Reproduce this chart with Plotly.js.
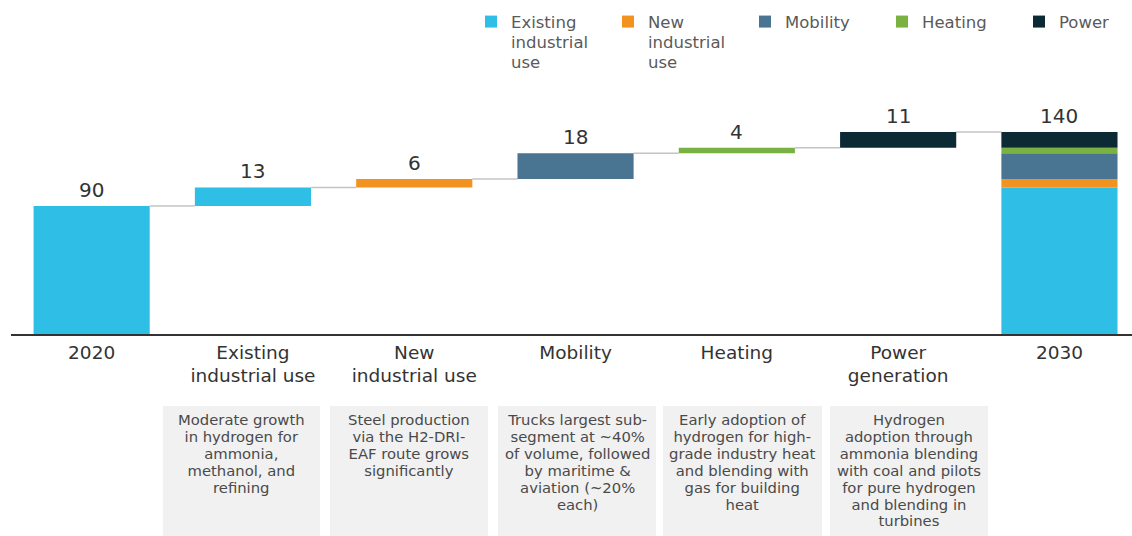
<!DOCTYPE html>
<html>
<head>
<meta charset="utf-8">
<script src="https://cdn.plot.ly/plotly-3.0.1.min.js"></script>
<style>html,body{margin:0;padding:0;background:#fff;}#chart{width:1132px;height:536px;}</style>
</head>
<body>
<div id="chart"></div>
<script>
// ---- data ----
const categories = ['2020', 'Existing<br>industrial use', 'New<br>industrial use', 'Mobility', 'Heating', 'Power<br>generation', '2030'];
const startValue = 90;                 // 2020
const seriesNames = ['Existing<br>industrial<br>use', 'New<br>industrial<br>use', 'Mobility', 'Heating', 'Power'];
const increments = [13, 6, 18, 4, 11]; // added by 2030 per segment
const valueLabels = ['90', '13', '6', '18', '4', '11', '140'];
const seriesColors = ['#2fbfe6', '#f2921f', '#4a7592', '#79b143', '#0c2a33'];
const notes = [
  'Moderate growth<br>in hydrogen for<br>ammonia,<br>methanol, and<br>refining',
  'Steel production<br>via the H2-DRI-<br>EAF route grows<br>significantly',
  'Trucks largest sub-<br>segment at ~40%<br>of volume, followed<br>by maritime &amp;<br>aviation (~20%<br>each)',
  'Early adoption of<br>hydrogen for high-<br>grade industry heat<br>and blending with<br>gas for building<br>heat',
  'Hydrogen<br>adoption through<br>ammonia blending<br>with coal and pilots<br>for pure hydrogen<br>and blending in<br>turbines'
];

// ---- layout constants ----
const W = 1132, H = 536;
const ML = 11, MR = 0, MT = 60, MB = 202;
const plotW = W - ML - MR, plotH = H - MT - MB;
const px2px = x => (x - ML) / plotW;
const py2py = y => (H - MB - y) / plotH;
const barW = 0.72;
const FONT = 'DejaVu Sans, Liberation Sans, Arial, sans-serif';
const span = (t, s) => '<span style="font-size:' + s + 'px">' + t + '</span>';

// cumulative levels
const cum = [startValue];
increments.forEach(v => cum.push(cum[cum.length - 1] + v));
const last = categories.length - 1;

const traces = seriesNames.map((name, k) => {
  let x, y, base;
  if (k === 0) {
    x = [categories[0], categories[1], categories[last]];
    y = [startValue, increments[0], startValue + increments[0]];
    base = [0, startValue, 0];
  } else {
    x = [categories[k + 1], categories[last]];
    y = [increments[k], increments[k]];
    base = [cum[k], cum[k]];
  }
  return {
    type: 'bar', name: span(name, 16.5), x: x, y: y, base: base,
    width: x.map(() => barW),
    marker: {color: seriesColors[k], line: {width: 0}},
    hoverinfo: 'skip'
  };
});

const shapes = [];
// connectors
for (let i = 0; i < last; i++) {
  shapes.push({type: 'line', xref: 'x', yref: 'y', x0: i + barW / 2, x1: i + 1 - barW / 2,
    y0: cum[i], y1: cum[i], line: {color: '#c4c4c4', width: 1.5}, layer: 'below'});
}
// note boxes
const boxes = [[163, 320], [330, 488], [498, 656], [663, 822], [830, 988]];
const boxTop = 406, boxBottom = 540;
boxes.forEach(b => {
  shapes.push({type: 'rect', xref: 'paper', yref: 'paper', x0: px2px(b[0]), x1: px2px(b[1]),
    y0: py2py(boxTop), y1: py2py(boxBottom), fillcolor: '#f1f1f1', line: {width: 0}, layer: 'below'});
});

const annotations = [];
// value labels
const tops = [startValue].concat(cum.slice(1)).concat([cum[cum.length - 1]]);
valueLabels.forEach((t, i) => {
  annotations.push({xref: 'x', yref: 'y', x: i, y: tops[i], text: t, showarrow: false,
    yanchor: 'bottom', yshift: 2, font: {family: FONT, size: 20, color: '#333'}});
});
// notes
notes.forEach((t, i) => {
  const b = boxes[i];
  annotations.push({xref: 'paper', yref: 'paper', x: px2px((b[0] + b[1]) / 2), y: py2py(409),
    xanchor: 'center', yanchor: 'top', align: 'center', showarrow: false,
    text: span(t, 14.8),
    font: {family: FONT, size: 13, color: '#4a4a4a'}});
});

const layout = {
  width: W, height: H,
  margin: {l: ML, r: MR, t: MT, b: MB, pad: 0, autoexpand: false},
  paper_bgcolor: '#fff', plot_bgcolor: '#fff',
  barmode: 'overlay',
  showlegend: true,
  legend: {orientation: 'h', xref: 'container', yref: 'container', x: 471 / W, y: 1 - 5 / H,
    xanchor: 'left', yanchor: 'top', valign: 'top', entrywidth: 92, entrywidthmode: 'pixels',
    font: {family: FONT, size: 15.5, color: '#5a5a5a'}, traceorder: 'normal', itemclick: false},
  xaxis: {type: 'category', categoryorder: 'array', categoryarray: categories,
    tickmode: 'array', tickvals: categories, ticktext: categories.map(c => span(c, 18.5)),
    range: [-0.5, plotW / 161.3 - 0.5], showgrid: false, zeroline: false,
    showline: true, linecolor: '#333', linewidth: 2, ticks: '', ticklabelstandoff: 2,
    tickfont: {family: FONT, size: 17.5, color: '#333'}, automargin: false, fixedrange: true},
  yaxis: {range: [0, plotH / 1.4225], visible: false, showgrid: false, zeroline: false, fixedrange: true},
  shapes: shapes,
  annotations: annotations,
  hovermode: false,
  font: {family: FONT}
};

Plotly.newPlot('chart', traces, layout, {displayModeBar: false, staticPlot: true});
</script>
</body>
</html>
